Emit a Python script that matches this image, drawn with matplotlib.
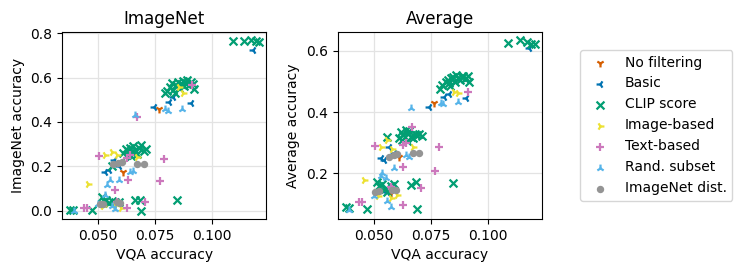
import matplotlib
matplotlib.use("Agg")
import matplotlib.pyplot as plt

# VQA accuracy (x), ImageNet accuracy, average accuracy for each filtering method
nofilt_vqa = [0.0765, 0.0610, 0.0575]
nofilt_imagenet = [0.457, 0.173, 0.030]
nofilt_avg = [0.429, 0.255, 0.135]

basic_vqa = [0.0743, 0.0809, 0.0829, 0.0905, 0.1180, 0.0531, 0.0546, 0.0568, 0.0590, 0.0560]
basic_imagenet = [0.469, 0.492, 0.514, 0.485, 0.725, 0.176, 0.184, 0.229, 0.200, 0.040]
basic_avg = [0.418, 0.450, 0.459, 0.445, 0.610, 0.249, 0.243, 0.287, 0.265, 0.140]

clip_vqa = [0.1090, 0.1140, 0.1170, 0.1190, 0.1205,
            0.0791, 0.0800, 0.0815, 0.0825, 0.0830, 0.0840, 0.0848, 0.0855, 0.0862,
            0.0870, 0.0878, 0.0885, 0.0890, 0.0898, 0.0905, 0.0915, 0.0919, 0.0835,
            0.0560, 0.0610, 0.0620, 0.0630, 0.0640, 0.0648, 0.0655, 0.0662, 0.0670,
            0.0680, 0.0690, 0.0700, 0.0710, 0.0625, 0.0645,
            0.0378, 0.0390, 0.0472, 0.0515, 0.0525, 0.0535, 0.0548, 0.0560, 0.0575,
            0.0590, 0.0663, 0.0684, 0.0688, 0.0846]
clip_imagenet = [0.765, 0.765, 0.770, 0.765, 0.758,
                 0.529, 0.540, 0.556, 0.575, 0.545, 0.565, 0.580, 0.555, 0.572,
                 0.585, 0.560, 0.575, 0.590, 0.568, 0.580, 0.570, 0.547, 0.530,
                 0.200, 0.260, 0.280, 0.270, 0.285, 0.265, 0.290, 0.275, 0.255,
                 0.285, 0.295, 0.270, 0.280, 0.250, 0.245,
                 0.006, 0.003, 0.003, 0.063, 0.045, 0.050, 0.035, 0.045, 0.040,
                 0.038, 0.051, 0.050, 0.000, 0.051]
clip_avg = [0.626, 0.637, 0.628, 0.624, 0.622,
            0.476, 0.490, 0.500, 0.505, 0.495, 0.510, 0.515, 0.500, 0.522,
            0.512, 0.505, 0.515, 0.518, 0.508, 0.512, 0.518, 0.500, 0.485,
            0.320, 0.315, 0.335, 0.325, 0.340, 0.330, 0.338, 0.320, 0.315,
            0.328, 0.325, 0.330, 0.322, 0.310, 0.305,
            0.090, 0.086, 0.085, 0.173, 0.160, 0.165, 0.150, 0.140, 0.160,
            0.165, 0.162, 0.173, 0.082, 0.169]

image_vqa = [0.0853, 0.0870, 0.0531, 0.0560, 0.0582, 0.0671, 0.0456, 0.0520, 0.0575, 0.0600]
image_imagenet = [0.559, 0.530, 0.251, 0.266, 0.251, 0.244, 0.120, 0.020, 0.025, 0.015]
image_avg = [0.467, 0.461, 0.287, 0.309, 0.280, 0.287, 0.178, 0.125, 0.118, 0.130]

text_vqa = [0.0912, 0.0669, 0.0504, 0.0627, 0.0640, 0.0788, 0.0769, 0.0630, 0.0575,
            0.0436, 0.0450, 0.0707, 0.0627, 0.0582]
text_imagenet = [0.567, 0.421, 0.247, 0.236, 0.250, 0.232, 0.135, 0.138, 0.096,
                 0.011, 0.011, 0.041, 0.011, 0.041]
text_avg = [0.467, 0.352, 0.289, 0.292, 0.300, 0.287, 0.208, 0.222, 0.156,
            0.107, 0.107, 0.151, 0.096, 0.150]

rand_vqa = [0.0662, 0.0794, 0.0805, 0.0868, 0.0530, 0.0538, 0.0553, 0.0590, 0.0641,
            0.0655, 0.0393, 0.0574, 0.0500, 0.0560]
rand_imagenet = [0.432, 0.457, 0.450, 0.457, 0.071, 0.116, 0.138, 0.138, 0.176,
                 0.180, 0.000, 0.010, 0.030, 0.020]
rand_avg = [0.412, 0.429, 0.425, 0.434, 0.190, 0.200, 0.184, 0.216, 0.260,
            0.255, 0.080, 0.091, 0.125, 0.110]

indist_vqa = [0.0566, 0.0588, 0.0603, 0.0670, 0.0700, 0.0507, 0.0522, 0.0581, 0.0596]
indist_imagenet = [0.213, 0.217, 0.220, 0.213, 0.213, 0.030, 0.030, 0.040, 0.035]
indist_avg = [0.252, 0.260, 0.263, 0.266, 0.266, 0.138, 0.142, 0.145, 0.145]

groups = [
    ("No filtering", nofilt_vqa, nofilt_imagenet, nofilt_avg, "1", "#d55e00"),
    ("Basic", basic_vqa, basic_imagenet, basic_avg, "3", "#0173b2"),
    ("CLIP score", clip_vqa, clip_imagenet, clip_avg, "x", "#029e73"),
    ("Image-based", image_vqa, image_imagenet, image_avg, "4", "#ece133"),
    ("Text-based", text_vqa, text_imagenet, text_avg, "+", "#cc78bc"),
    ("Rand. subset", rand_vqa, rand_imagenet, rand_avg, "2", "#56b4e9"),
    ("ImageNet dist.", indist_vqa, indist_imagenet, indist_avg, ".", "#949494"),
]

plt.rcParams["font.size"] = 10
fig = plt.figure(figsize=(7.48, 2.73), dpi=100)
ax1 = fig.add_axes([0.083, 0.198, 0.273, 0.685])
ax2 = fig.add_axes([0.4515, 0.198, 0.273, 0.685])

for name, vqa, inet, avg, marker, color in groups:
    size = 55 if marker == "." else 32
    ax1.scatter(vqa, inet, marker=marker, color=color, s=size, linewidths=1.6, label=name)
    ax2.scatter(vqa, avg, marker=marker, color=color, s=size, linewidths=1.6)

for ax in (ax1, ax2):
    ax.set_xlim(0.0342, 0.1237)
    ax.set_xticks([0.050, 0.075, 0.100])
    ax.set_xticklabels(["0.050", "0.075", "0.100"])
    ax.set_xlabel("VQA accuracy")
    ax.grid(True, color="#e3e3e3", linewidth=0.9)
    ax.set_axisbelow(True)

ax1.set_ylim(-0.036, 0.805)
ax1.set_yticks([0.0, 0.2, 0.4, 0.6, 0.8])
ax1.set_ylabel("ImageNet accuracy")
ax1.set_title("ImageNet", fontsize=12)

ax2.set_ylim(0.051, 0.662)
ax2.set_yticks([0.2, 0.4, 0.6])
ax2.set_ylabel("Average accuracy")
ax2.set_title("Average", fontsize=12)

handles, labels = ax1.get_legend_handles_labels()
fig.legend(handles, labels, loc="upper left", bbox_to_anchor=(0.776, 0.817),
           borderaxespad=0, fontsize=10, markerscale=1.0, frameon=True)

fig.savefig("out.png", dpi=100)
